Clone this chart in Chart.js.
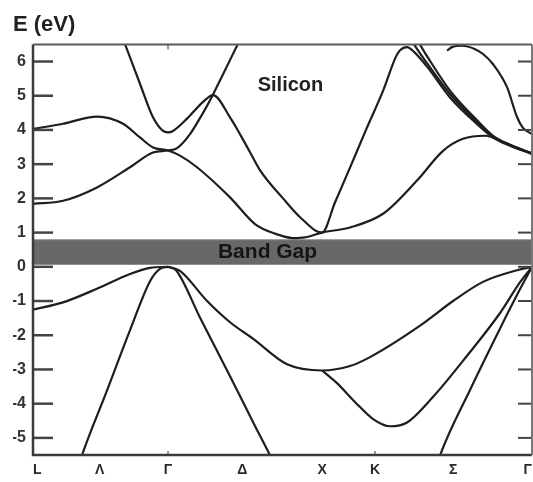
<!DOCTYPE html>
<html>
<head>
<meta charset="utf-8">
<script src="https://cdn.jsdelivr.net/npm/chart.js@4.4.1/dist/chart.umd.min.js"></script>
<style>
  html, body { margin: 0; padding: 0; background: #fff; }
  #wrap { width: 533px; height: 482px; position: relative; }
</style>
</head>
<body>
<div id="wrap"><canvas id="bands"></canvas></div>
<script>
// Silicon band structure along L - Γ - X - K - Γ
// points are [k, E(eV)], k measured along the path (Γ-X = 1)

const kTicks = [0, 0.43, 0.871, 1.35, 1.865, 2.206, 2.71, 3.219];
const kLabels = ['L', 'Λ', 'Γ', 'Δ', 'X', 'K', 'Σ', 'Γ'];
const yTicks = [-5, -4, -3, -2, -1, 0, 1, 2, 3, 4, 5, 6];

const gapBottom = 0.06;
const gapTop = 0.79;

// conduction bands
const cond1 = [[0, 4.03], [0.194, 4.18], [0.413, 4.39], [0.581, 4.18], [0.690, 3.78], [0.774, 3.49],
  [0.871, 3.40], [0.948, 3.25], [1.058, 2.91], [1.271, 2.03], [1.432, 1.25], [1.561, 0.97],
  [1.677, 0.84], [1.755, 0.86], [1.865, 1.0], [2.045, 1.15], [2.258, 1.55], [2.477, 2.52],
  [2.645, 3.39], [2.774, 3.74], [2.916, 3.83], [3.045, 3.62], [3.219, 3.30]];
const cond2 = [[0, 1.84], [0.194, 1.93], [0.413, 2.32], [0.626, 2.91], [0.774, 3.34], [0.871, 3.40],
  [0.929, 3.47], [1.013, 3.88], [1.097, 4.50], [1.155, 4.98], [1.226, 5.63], [1.316, 6.46], [1.342, 6.7]];
const cond3 = [[0.581, 6.65], [0.594, 6.5], [0.690, 5.35], [0.774, 4.37], [0.839, 3.97], [0.871, 3.93],
  [0.903, 3.97], [0.994, 4.33], [1.097, 4.82], [1.161, 5.02], [1.271, 4.37], [1.400, 3.35],
  [1.465, 2.82], [1.613, 2.0], [1.723, 1.45], [1.865, 1.0], [1.948, 1.88], [2.045, 2.9],
  [2.148, 4.0], [2.258, 5.14], [2.342, 6.15], [2.368, 6.33], [2.413, 6.42], [2.458, 6.28],
  [2.542, 5.85], [2.690, 4.95], [2.865, 4.17], [2.968, 3.78], [3.077, 3.54], [3.219, 3.30]];
const cond4 = [[2.432, 6.7], [2.458, 6.5], [2.542, 5.95], [2.690, 5.05], [2.865, 4.22], [2.968, 3.80],
  [3.077, 3.56], [3.219, 3.31]];
const cond5 = [[2.477, 6.7], [2.497, 6.5], [2.561, 6.02], [2.690, 5.15], [2.865, 4.28], [2.968, 3.83],
  [3.077, 3.57], [3.219, 3.32]];
const cond6 = [[2.671, 6.32], [2.703, 6.42], [2.768, 6.46], [2.852, 6.36], [2.903, 6.22], [2.968, 5.92],
  [3.058, 5.25], [3.123, 4.37], [3.161, 4.06], [3.219, 3.88]];

// valence bands
const val1 = [[0, -1.25], [0.194, -1.04], [0.413, -0.64], [0.626, -0.21], [0.755, -0.03], [0.871, 0]];
const val2 = [[0.303, -5.7], [0.316, -5.51], [0.477, -3.62], [0.626, -1.85], [0.755, -0.42], [0.819, -0.06], [0.871, 0]];
const val3 = [[0.871, 0], [0.923, -0.1], [1.077, -1.48], [1.271, -3.2], [1.432, -4.65], [1.529, -5.51], [1.548, -5.7]];
const val4 = [[0.871, 0], [0.948, -0.12], [1.123, -1.0], [1.271, -1.62], [1.419, -2.1], [1.639, -2.85],
  [1.865, -3.03], [2.045, -2.9], [2.174, -2.64], [2.497, -1.72], [2.710, -1.0], [2.903, -0.44],
  [3.123, -0.1], [3.219, 0]];
const val5 = [[1.865, -3.03], [1.961, -3.4], [2.077, -3.95], [2.194, -4.45], [2.303, -4.66], [2.413, -4.55],
  [2.581, -3.8], [2.800, -2.6], [3.013, -1.35], [3.142, -0.45], [3.219, 0]];
const val6 = [[2.613, -5.7], [2.626, -5.51], [2.819, -3.6], [3.013, -1.8], [3.142, -0.65], [3.219, 0]];

const bands = [cond1, cond2, cond3, cond4, cond5, cond6, val1, val2, val3, val4, val5, val6];

// text placed inside the plot, [k, E]
const siliconLabel = [1.661, 5.29];
const gapLabel = [1.513, 0.44];

Chart.defaults.font.family = '"Liberation Sans", Arial, Helvetica, sans-serif';

function toPoints(arr) {
    return arr.map(p => ({ x: p[0], y: p[1] }));
}

const datasets = bands.map(b => ({
    data: toPoints(b),
    borderColor: '#1e1e1e',
    borderWidth: 2.2,
    pointRadius: 0,
    fill: false,
    cubicInterpolationMode: 'monotone'
}));

// the grey band gap strip, drawn last so it sits under the curves
datasets.push({
    data: toPoints([[0, gapTop], [3.219, gapTop]]),
    borderColor: '#8c8c8c',
    borderWidth: 1,
    pointRadius: 0,
    backgroundColor: '#686868',
    fill: { value: gapBottom }
});

const plotText = {
    id: 'plotText',
    afterDatasetsDraw(chart) {
        const { ctx, scales: { x, y } } = chart;
        ctx.save();
        ctx.textAlign = 'center';
        ctx.textBaseline = 'middle';
        ctx.fillStyle = '#222';
        ctx.font = 'bold 20px "Liberation Sans", Arial, sans-serif';
        ctx.fillText('Silicon', x.getPixelForValue(siliconLabel[0]), y.getPixelForValue(siliconLabel[1]));
        ctx.fillStyle = '#151515';
        ctx.font = 'bold 21px "Liberation Sans", Arial, sans-serif';
        ctx.fillText('Band Gap', x.getPixelForValue(gapLabel[0]), y.getPixelForValue(gapLabel[1]));
        ctx.restore();
    }
};

const frameTicks = {
    id: 'frameTicks',
    afterDatasetsDraw(chart) {
        const { ctx, chartArea: a, scales: { x, y } } = chart;
        ctx.save();
        ctx.lineCap = 'butt';
        ctx.strokeStyle = '#444';
        // inward tick marks on both side walls
        y.ticks.forEach(t => {
            const py = y.getPixelForValue(t.value);
            ctx.lineWidth = 2.5;
            ctx.beginPath();
            ctx.moveTo(a.left, py);
            ctx.lineTo(a.left + 20, py);
            ctx.stroke();
            ctx.lineWidth = 2;
            ctx.beginPath();
            ctx.moveTo(a.right, py);
            ctx.lineTo(a.right - 14, py);
            ctx.stroke();
        });
        // little marks at Γ and K on the bottom, Γ on the top
        ctx.lineWidth = 1.5;
        ctx.strokeStyle = '#777';
        [kTicks[2], kTicks[5]].forEach(k => {
            const px = x.getPixelForValue(k);
            ctx.beginPath();
            ctx.moveTo(px, a.bottom);
            ctx.lineTo(px, a.bottom - 4);
            ctx.stroke();
        });
        const gx = x.getPixelForValue(kTicks[2]);
        ctx.beginPath();
        ctx.moveTo(gx, a.top);
        ctx.lineTo(gx, a.top + 5);
        ctx.stroke();

        // frame
        ctx.lineWidth = 2.5;
        ctx.strokeStyle = '#3a3a3a';
        ctx.beginPath();
        ctx.moveTo(a.left, a.top);
        ctx.lineTo(a.left, a.bottom);
        ctx.lineTo(a.right, a.bottom);
        ctx.stroke();
        ctx.lineWidth = 2;
        ctx.strokeStyle = '#5a5a5a';
        ctx.beginPath();
        ctx.moveTo(a.left, a.top);
        ctx.lineTo(a.right, a.top);
        ctx.stroke();
        ctx.strokeStyle = '#777';
        ctx.beginPath();
        ctx.moveTo(a.right, a.top);
        ctx.lineTo(a.right, a.bottom);
        ctx.stroke();
        ctx.restore();
    }
};

new Chart(document.getElementById('bands'), {
    type: 'line',
    data: { datasets: datasets },
    options: {
        responsive: true,
        maintainAspectRatio: false,
        animation: false,
        layout: { padding: { left: 13, right: 1, top: 0, bottom: 0 } },
        plugins: {
            legend: { display: false },
            tooltip: { enabled: false },
            title: {
                display: true,
                text: 'E (eV)',
                align: 'start',
                color: '#222',
                font: { size: 22, weight: 'bold' },
                padding: { top: 12, bottom: 6 }
            }
        },
        scales: {
            x: {
                type: 'linear',
                min: 0,
                max: 3.219,
                grid: { display: false, drawTicks: false },
                border: { display: false },
                afterBuildTicks: scale => {
                    scale.ticks = kTicks.map(v => ({ value: v }));
                },
                afterFit: scale => {
                    scale.height = 27;
                    scale.paddingLeft = 0;
                    scale.paddingRight = 0;
                },
                ticks: {
                    autoSkip: false,
                    maxRotation: 0,
                    align: 'inner',
                    padding: 7,
                    color: '#2a2a2a',
                    font: { size: 14, weight: 'bold' },
                    callback: (v, i) => kLabels[i]
                }
            },
            y: {
                type: 'linear',
                min: -5.5,
                max: 6.5,
                grid: { display: false, drawTicks: false },
                border: { display: false },
                afterBuildTicks: scale => {
                    scale.ticks = yTicks.map(v => ({ value: v }));
                },
                afterFit: scale => { scale.width = 20; },
                ticks: {
                    padding: 7,
                    color: '#333',
                    font: { size: 16, weight: 'bold' },
                    callback: v => String(v)
                }
            }
        }
    },
    plugins: [plotText, frameTicks]
});
</script>
</body>
</html>
